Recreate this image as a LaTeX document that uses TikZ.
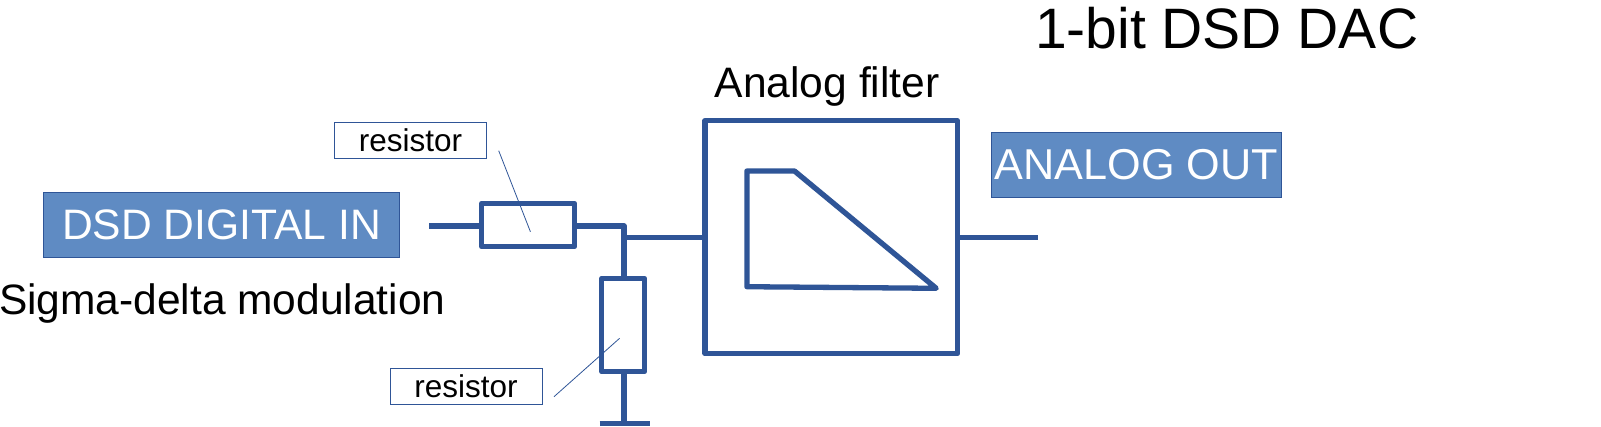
\documentclass[tikz,border=0pt]{standalone}
\usepackage{fontspec}
\setmainfont{Liberation Sans}
\definecolor{wirecol}{HTML}{2F5597}
\definecolor{fillcol}{HTML}{5F8BC3}
\newcommand{\fs}[1]{\fontsize{#1}{#1}\selectfont}
\tikzset{
  wire/.style={draw=wirecol,line width=5.3pt,line join=round},
  part/.style={wire,rectangle,fill=white,inner sep=0pt,outer sep=0pt},
  banner/.style={rectangle,draw=wirecol,line width=1pt,fill=fillcol,text=white,inner sep=0pt,outer sep=0pt},
  tag/.style={rectangle,draw=wirecol,line width=1pt,fill=white,text=black,inner sep=0pt,outer sep=0pt,minimum width=152pt,minimum height=36.4pt,font=\fs{31.5}},
  leader/.style={draw=wirecol,line width=0.8pt},
  caption/.style={anchor=base west,inner sep=0pt,outer sep=0pt,text=black}
}
\begin{document}
\begin{tikzpicture}[x=1pt,y=-1pt]
\useasboundingbox (0,0) rectangle (1601,426);
\node[caption,font=\fs{57}] (title) at (1035,48) {1-bit DSD DAC};
\node[caption,font=\fs{42.6}] (ftitle) at (714.6,97.5) {Analog filter};
\node[caption,font=\fs{42.5}] (sigma) at (-1,314.5) {Sigma-delta modulation};
\node[banner,minimum width=356.2pt,minimum height=65pt,font=\fs{42.6}] (dsd) at (221.4,224.8) {DSD DIGITAL IN};
\node[banner,minimum width=290.4pt,minimum height=65pt,font=\fs{43.2}] (aout) at (1136.2,164.8) {ANALOG OUT};
\node[tag] (tag1) at (410.5,140.5) {resistor};
\node[tag] (tag2) at (466,386.3) {resistor};
\coordinate (in) at (429,226);
\coordinate (j1) at (624,226);
\coordinate (j2) at (624,237.3);
\coordinate (out) at (1037.6,237.3);
\coordinate (gnd) at (624,423.5);
\coordinate (gl) at (599.6,423.5);
\coordinate (gr) at (650,423.5);
\node[part,minimum width=92.8pt,minimum height=43.4pt] (r1) at (528.1,225) {};
\node[part,minimum width=42.8pt,minimum height=93.4pt] (r2) at (623.2,325) {};
\node[part,minimum width=252.5pt,minimum height=233pt] (filter) at (831.2,237.2) {};
\draw[wire] (in) -- (in -| r1.west);
\draw[wire] (j1 -| r1.east) -- (j1) -- (j1 |- r2.north);
\draw[wire] (j2) -- (j2 -| filter.west);
\draw[wire] (out -| filter.east) -- (out);
\draw[wire] (j1 |- r2.south) -- (gnd);
\draw[wire] (gl) -- (gr);
\draw[wire] (746.9,171) -- (794.5,171) -- (936.2,288.3) -- (746.9,286.7) -- cycle;
\coordinate (l1a) at (498.7,150.7);
\coordinate (l1b) at (530.4,231.7);
\coordinate (l2a) at (554,396.7);
\coordinate (l2b) at (619.6,338.3);
\draw[leader] (l1a) -- (l1b);
\draw[leader] (l2a) -- (l2b);
\end{tikzpicture}
\end{document}
